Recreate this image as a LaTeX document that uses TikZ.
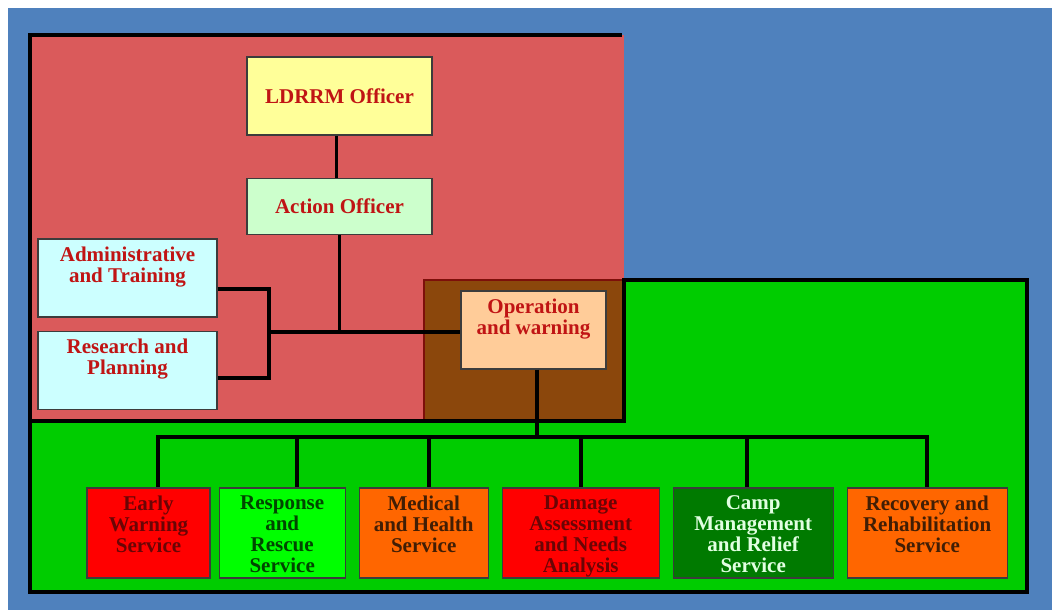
\documentclass[tikz,border=0pt]{standalone}
\usepackage{fontspec}
\setmainfont{Liberation Serif}
\usetikzlibrary{positioning}

\definecolor{slideblue}{RGB}{79,129,189}
\definecolor{zonered}{RGB}{218,90,91}
\definecolor{zonegreen}{RGB}{0,204,0}
\definecolor{zonebrown}{RGB}{139,71,12}
\definecolor{brownedge}{RGB}{125,15,10}
\definecolor{boxedge}{RGB}{60,60,60}
\definecolor{titlered}{RGB}{192,20,20}
\definecolor{paleyellow}{RGB}{255,255,153}
\definecolor{palegreen}{RGB}{204,255,204}
\definecolor{palecyan}{RGB}{204,255,255}
\definecolor{palepeach}{RGB}{255,204,153}
\definecolor{svcred}{RGB}{255,0,0}
\definecolor{svclime}{RGB}{0,255,0}
\definecolor{svcorange}{RGB}{255,102,0}
\definecolor{svcdark}{RGB}{0,122,0}
\definecolor{inkmaroon}{RGB}{105,5,5}
\definecolor{inkgreen}{RGB}{0,70,0}
\definecolor{inkbrown}{RGB}{65,30,5}
\definecolor{inkmint}{RGB}{225,255,225}

\newcommand\orgfont{\fontsize{21}{21}\selectfont\bfseries}

\tikzset {
  org node/.style = {
    draw = boxedge,
    line width = 1.2pt,
    rectangle,
    inner sep = 0,
    align = center,
    font = \orgfont
  },
  % officer box, text in the middle
  office/.style = {
    org node,
    text = titlered,
    minimum width = 185pt,
    minimum height = #1
  },
  staff/.style = {
    org node,
    fill = palecyan,
    minimum width = 179pt,
    minimum height = 78pt
  },
  service/.style = {
    org node,
    minimum height = 90pt
  },
  % text hangs from the top edge of its box
  top text/.style = {
    anchor = north,
    yshift = -8pt,
    inner sep = 0,
    align = center,
    font = \orgfont
  },
  wire/.style = {
    draw = black,
    line width = 3.3pt
  },
  node distance = 12.8pt
}

\begin{document}
\begin{tikzpicture}[x=1pt, y=-1pt]
    \useasboundingbox (0,0) rectangle (1052,610);
    % backdrop
    \fill[slideblue] (8,8) rectangle (1052,610);
    \fill[zonegreen] (424,280) rectangle (1027,592);
    \fill[zonegreen] (30,421) rectangle (1027,592);
    \fill[zonered] (30,35) rectangle (624,421);
    \fill[zonebrown] (424,280) rectangle (624,421);
    \draw[brownedge, line width = 1.5pt] (424,421) -- (424,280) -- (624,280);
    \draw[line width = 3.2pt] (622,35) -- (30,35) -- (30,592) -- (1027,592) -- (1027,280)
      -- (624,280) -- (624,421) -- (30,421);

    \node[office = 78pt, fill = paleyellow] (ldrrm) at (339.5,96) {LDRRM Officer};
    \node[office = 56pt, fill = palegreen] (action) [below=42pt of ldrrm] {Action Officer};
    \node[staff, label = {[top text, text = titlered]north:{Administrative\\and Training}}] (admin) at (127.5,278) {};
    \node[staff, label = {[top text, text = titlered]north:{Research and\\Planning}}] (research) [below=13pt of admin] {};
    \node[org node, fill = palepeach, minimum width = 145pt, minimum height = 78pt,
      label = {[top text, text = titlered]north:{Operation\\and warning}}] (oper) at (533.5,330) {};

    \node[service, fill = svcred, minimum width = 123pt,
      label = {[top text, text = inkmaroon]north:{Early\\Warning\\Service}}] (early) at (148.5,533) {};
    \node[service, fill = svclime, minimum width = 126pt,
      label = {[top text, text = inkgreen]north:{Response\\and\\Rescue\\Service}}] (response) [right=8pt of early] {};
    \node[service, fill = svcorange, minimum width = 129pt,
      label = {[top text, text = inkbrown]north:{Medical\\and Health\\Service}}] (medical) [right=of response] {};
    \node[service, fill = svcred, minimum width = 157pt,
      label = {[top text, text = inkmaroon]north:{Damage\\Assessment\\and Needs\\Analysis}}] (damage) [right=of medical] {};
    \node[service, fill = svcdark, minimum width = 160pt,
      label = {[top text, text = inkmint]north:{Camp\\Management\\and Relief\\Service}}] (camp) [right=of damage] {};
    \node[service, fill = svcorange, minimum width = 160pt,
      label = {[top text, text = inkbrown]north:{Recovery and\\Rehabilitation\\Service}}] (recovery) [right=of camp] {};

    \coordinate (staff top) at (269,289);
    \coordinate (staff bottom) at (269,378);
    \coordinate (staff join) at (269,332);
    \coordinate (bus) at (537,437);

    \draw[wire] ([xshift=-3pt]ldrrm.south) -- ([xshift=-3pt]action.north);
    \draw[wire] (action.south) -- (action.south |- staff join);
    \draw[wire] (admin.east |- staff top) -- (staff top) -- (staff bottom) -- (research.east |- staff bottom);
    \draw[wire] (staff join) -- (staff join -| oper.west);
    \draw[wire] (bus |- oper.south) -- (bus);

    \draw[wire] (bus) -| (158,437 |- early.north);
    \draw[wire] (bus) -| (297,437 |- response.north);
    \draw[wire] (bus) -| (429,437 |- medical.north);
    \draw[wire] (bus) -| (581,437 |- damage.north);
    \draw[wire] (bus) -| (747,437 |- camp.north);
    \draw[wire] (bus) -| (927,437 |- recovery.north);

  \end{tikzpicture}
\end{document}
